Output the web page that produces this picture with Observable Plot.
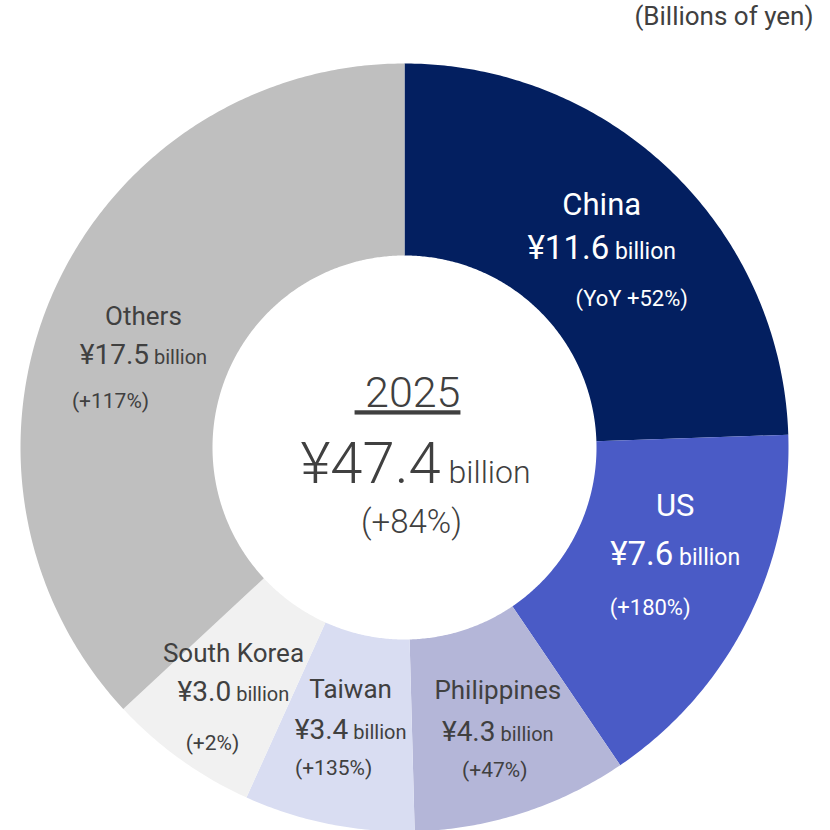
<!DOCTYPE html>
<html>
<head>
<meta charset="utf-8">
<script src="https://cdn.jsdelivr.net/npm/d3@7"></script>
<script src="https://cdn.jsdelivr.net/npm/@observablehq/plot@0.6"></script>
<style>
  html, body { margin: 0; padding: 0; background: #ffffff; }
  #chart svg { display: block; }
</style>
</head>
<body>
<div id="chart"></div>
<script>
// ---- Data ----
const regions = ["China", "US", "Philippines", "Taiwan", "South Korea", "Others"];
const values = [11.6, 7.6, 4.3, 3.4, 3.0, 17.5];
const yoyLabels = ["YoY +52%", "+180%", "+47%", "+135%", "+2%", "+117%"];
const totalYear = "2025";
const totalValue = 47.4;
const totalYoY = "+84%";
const unitNote = "(Billions of yen)";

// ---- Styling / layout ----
const palette = ["#031f60", "#4a5bc6", "#b4b6d8", "#d9ddf2", "#f1f1f1", "#bfbfbf"];
const darkText = "#404040";
const innerR = 0.5, outerR = 1, labelR = 0.75;
const FONT = "Roboto, 'Noto Sans', sans-serif";
const LABEL_WEIGHT = 400;
const CENTER_WEIGHT = 300;
// annotation nudges in pixels: [value dx, value dy, name dy, pct dx, pct dy]
const nudge = {
  "China":       [-3,   8, -43,  30, 50],
  "US":          [14, -24, -48, -25, 54],
  "Philippines": [ 5,  10, -41,  -3, 39],
  "Taiwan":      [ 3,   0, -40, -17, 38],
  "South Korea": [-3,  11, -39, -21, 51],
  "Others":      [ 3,  23, -39, -33, 46]
};

// ---- Build slice geometry from values ----
const total = d3.sum(values);
const slices = [];
let acc = 0;
regions.forEach((name, i) => {
  const a0 = acc / total * 2 * Math.PI;
  acc += values[i];
  const a1 = acc / total * 2 * Math.PI;
  slices.push({name, value: values[i], yoy: yoyLabels[i], color: palette[i], a0, a1, mid: (a0 + a1) / 2, big: i < 2});
});

const pts = [];
for (const s of slices) {
  const n = Math.max(4, Math.ceil((s.a1 - s.a0) / (Math.PI / 360)));
  for (let k = 0; k <= n; k++) {
    const a = s.a0 + (s.a1 - s.a0) * k / n;
    pts.push({name: s.name, color: s.color, x: outerR * Math.sin(a), y: outerR * Math.cos(a)});
  }
  for (let k = n; k >= 0; k--) {
    const a = s.a0 + (s.a1 - s.a0) * k / n;
    pts.push({name: s.name, color: s.color, x: innerR * Math.sin(a), y: innerR * Math.cos(a)});
  }
}

const labels = slices.map(s => {
  const [vdx, vdy, ndy, pdx, pdy] = nudge[s.name];
  return {
    ...s,
    lx: labelR * Math.sin(s.mid),
    ly: labelR * Math.cos(s.mid),
    textColor: s.big ? "#ffffff" : darkText,
    valueText: `¥${s.value.toFixed(1)} billion`,
    yoyText: `(${s.yoy})`,
    vdx, vdy, ndy: vdy + ndy, pdx: vdx + pdx, pdy: vdy + pdy
  };
});
const bigL = labels.filter(d => d.big);
const smallL = labels.filter(d => !d.big);

// Plot.text dx/dy are constants, so build one mark per label line
const textMarks = (data, nameSize, valSize, pctSize) => data.flatMap(d => [
  Plot.text([d], {x: "lx", y: "ly", text: "name", fill: "textColor", fontSize: nameSize, fontWeight: LABEL_WEIGHT, dx: d.vdx, dy: d.ndy}),
  Plot.text([d], {x: "lx", y: "ly", text: "valueText", fill: "textColor", fontSize: valSize, fontWeight: LABEL_WEIGHT, dx: d.vdx, dy: d.vdy}),
  Plot.text([d], {x: "lx", y: "ly", text: "yoyText", fill: "textColor", fontSize: pctSize, fontWeight: LABEL_WEIGHT, dx: d.pdx, dy: d.pdy})
]);

const chart = Plot.plot({
  width: 830,
  height: 830,
  margin: 0,
  style: {fontFamily: FONT, background: "#ffffff"},
  x: {domain: [-1, 1], range: [20, 788], axis: null},
  y: {domain: [-1, 1], range: [831, 63], axis: null},
  marks: [
    Plot.line(pts, {x: "x", y: "y", z: "name", fill: "color", stroke: null, curve: "linear-closed"}),
    ...textMarks(bigL, 31, 33, 22),
    ...textMarks(smallL, 26, 28, 21),
    // center
    Plot.text([0], {x: () => 0, y: () => 0, text: () => "\u00a0" + totalYear, fill: darkText, fontSize: 43, fontWeight: CENTER_WEIGHT, dy: -54, dx: 3}),
    Plot.text([0], {x: () => 0, y: () => 0, text: () => `¥${totalValue.toFixed(1)} billion`, fill: darkText, fontSize: 58, fontWeight: CENTER_WEIGHT, dy: 17, dx: 11}),
    Plot.text([0], {x: () => 0, y: () => 0, text: () => `(${totalYoY})`, fill: darkText, fontSize: 33, fontWeight: CENTER_WEIGHT, dy: 75, dx: 7}),
    // unit note
    Plot.text([unitNote], {frameAnchor: "top-right", text: d => d, textAnchor: "end", lineAnchor: "top", fill: darkText, fontSize: 26, fontWeight: LABEL_WEIGHT, dx: -17, dy: 6})
  ]
});

// Split "¥X billion" into a large number and a smaller "billion"
d3.select(chart).selectAll("text").each(function () {
  const el = d3.select(this);
  const t = this.textContent;
  if (t === "\u00a0" + totalYear) {
    el.style("text-decoration", "underline").style("white-space", "pre").style("text-decoration-thickness", "2px");
    return;
  }
  const m = /^(¥[\d.]+) (billion)$/.exec(t);
  if (!m) return;
  const fs = parseFloat(el.attr("font-size") || this.parentNode.getAttribute("font-size") || 28);
  el.text(null);
  el.append("tspan").attr("font-size", fs).text(m[1]);
  el.append("tspan").attr("font-size", Math.round(fs * (fs > 40 ? 0.56 : 0.7))).text("\u00a0" + m[2]);
});

document.getElementById("chart").appendChild(chart);
</script>
</body>
</html>
